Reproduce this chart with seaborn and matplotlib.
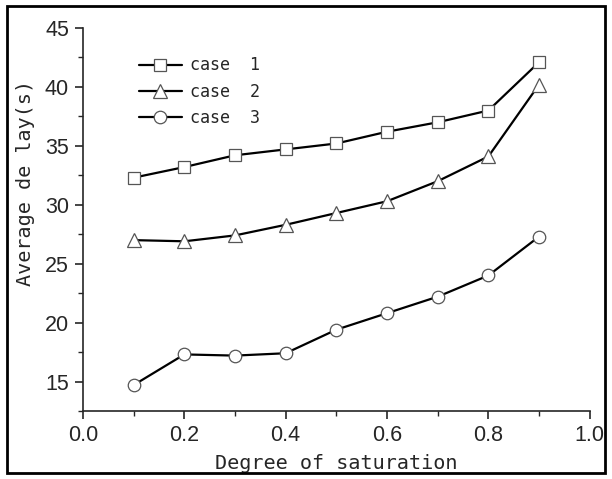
import numpy as np
import pandas as pd
import seaborn as sns
import matplotlib.pyplot as plt
from matplotlib.patches import Rectangle
from matplotlib.ticker import MultipleLocator

saturation = [0.1, 0.2, 0.3, 0.4, 0.5, 0.6, 0.7, 0.8, 0.9]
case1 = [32.3, 33.2, 34.2, 34.7, 35.2, 36.2, 37.0, 38.0, 42.1]
case2 = [27.0, 26.9, 27.4, 28.3, 29.3, 30.3, 32.0, 34.1, 40.2]
case3 = [14.7, 17.3, 17.2, 17.4, 19.4, 20.8, 22.2, 24.0, 27.3]
labels = ["case  1", "case  2", "case  3"]
markers = ["s", "^", "o"]


def main():
    sns.set_style("ticks")
    plt.rcParams["font.family"] = ["Liberation Sans", "DejaVu Sans"]

    df = pd.DataFrame({"x": saturation * 3,
                       "y": case1 + case2 + case3,
                       "case": np.repeat(labels, len(saturation))})

    fig = plt.figure(figsize=(6.12, 4.79), dpi=100)
    ax = fig.add_axes([0.1356, 0.142, 0.828, 0.7995])

    for lab, mk in zip(labels, markers):
        sub = df[df["case"] == lab]
        sns.lineplot(data=sub, x="x", y="y", ax=ax, color="black", lw=1.6,
                     marker=mk, markersize=9 if mk != "^" else 10,
                     markerfacecolor="white", markeredgecolor="#555555",
                     markeredgewidth=0.9, label=lab)

    ax.set_xlim(0.0, 1.0)
    ax.set_ylim(12.5, 45)
    ax.xaxis.set_major_locator(MultipleLocator(0.2))
    ax.xaxis.set_minor_locator(MultipleLocator(0.1))
    ax.yaxis.set_major_locator(MultipleLocator(5))
    ax.yaxis.set_minor_locator(MultipleLocator(2.5))
    ax.tick_params(which="major", length=6, width=1.2, labelsize=15.5,
                   direction="out", pad=4)
    ax.tick_params(which="minor", length=3.5, width=1.0, direction="out")
    ax.xaxis.set_major_formatter(plt.FuncFormatter(lambda v, p: f"{v:.1f}"))
    sns.despine(ax=ax)
    for s in ["left", "bottom"]:
        ax.spines[s].set_linewidth(1.2)

    mono = "DejaVu Sans Mono"
    ax.set_xlabel("Degree of saturation", family=mono, fontsize=14.5, labelpad=6)
    ax.set_ylabel("Average de lay(s)", family=mono, fontsize=14.5)
    ax.yaxis.set_label_coords(-0.095, 0.595)

    ax.legend(loc="upper left", bbox_to_anchor=(0.08, 0.965), frameon=False,
              handlelength=2.6, labelspacing=0.5, handletextpad=0.5,
              prop={"family": mono, "size": 12})

    fig.patches.append(Rectangle((0.011, 0.012), 0.978, 0.976, transform=fig.transFigure,
                                 fill=False, edgecolor="black", lw=2))

    fig.savefig("out.png", dpi=100)


if __name__ == "__main__":
    main()
